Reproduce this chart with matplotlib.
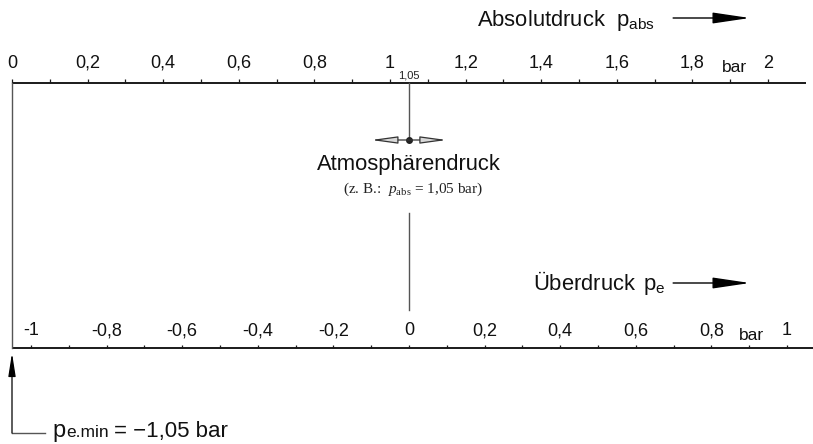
import matplotlib
matplotlib.use('Agg')
import matplotlib.pyplot as plt

plt.rcParams['font.family'] = ['Liberation Sans', 'DejaVu Sans']
plt.rcParams['mathtext.fontset'] = 'custom'
plt.rcParams['mathtext.rm'] = 'Liberation Sans'
plt.rcParams['mathtext.it'] = 'Liberation Serif:italic'
plt.rcParams['mathtext.sf'] = 'Liberation Serif'

# ---- data (bar) ----
abs_major = [0, 0.2, 0.4, 0.6, 0.8, 1.0, 1.2, 1.4, 1.6, 1.8, 2.0]
abs_labels = ['0', '0,2', '0,4', '0,6', '0,8', '1', '1,2', '1,4', '1,6', '1,8', '2']
abs_minor = [0.1, 0.3, 0.5, 0.7, 0.9, 1.1, 1.3, 1.5, 1.7, 1.9]
gauge_major = [-1.0, -0.8, -0.6, -0.4, -0.2, 0.0, 0.2, 0.4, 0.6, 0.8, 1.0]
gauge_labels = ['-1', '-0,8', '-0,6', '-0,4', '-0,2', '0', '0,2', '0,4', '0,6', '0,8', '1']
gauge_minor = [-0.9, -0.7, -0.5, -0.3, -0.1, 0.1, 0.3, 0.5, 0.7, 0.9]
p_atm = 1.05            # atmospheric pressure (absolute)
p_e_min = -1.05         # minimum gauge pressure
abs_axis_end = 2.1
bar_pos_abs = 1.9
bar_pos_gauge = 0.9

# ---- layout (pixel rows from top) ----
Y_TOP = 83
Y_BOT = 348
Y_ATM = 140
TICK = 3.5
LINE_C = '#1a1a1a'
GREY = '#555555'
TXT = '#111111'

fig = plt.figure(figsize=(8.13, 4.44), dpi=100)
ax = fig.add_axes([0, 0, 1, 1])
ax.set_xlim(-12 / 378, 801 / 378)
ax.set_ylim(444, 0)
ax.axis('off')

def g2a(g):
    return g + p_atm

# top axis (absolute pressure)
ax.plot([0, abs_axis_end], [Y_TOP, Y_TOP], color=LINE_C, lw=1.4, solid_capstyle='butt')
ax.vlines(abs_major + abs_minor, Y_TOP - TICK, Y_TOP, color=LINE_C, lw=0.9)
for v, lab in zip(abs_major, abs_labels):
    ax.text(v, 68, lab, ha='center', va='baseline', fontsize=13, color=TXT)
ax.annotate('bar', xy=(bar_pos_abs, 72), xytext=(3, 0), textcoords='offset points',
            ha='center', va='baseline', fontsize=12.5, color=TXT)
ax.text(p_atm, 78.5, '1,05', ha='center', va='baseline', fontsize=8, color='#222')

# bottom axis (gauge pressure)
gm = [g2a(g) for g in gauge_major]
gn = [g2a(g) for g in gauge_minor]
ax.plot([g2a(p_e_min), 2.2], [Y_BOT, Y_BOT], color=LINE_C, lw=1.4, solid_capstyle='butt')
ax.vlines(gm + gn, Y_BOT - TICK, Y_BOT, color=LINE_C, lw=0.9)
for v, lab in zip(gm, gauge_labels):
    ax.text(v, 335, lab, ha='center', va='baseline', fontsize=13, color=TXT)
ax.annotate('bar', xy=(g2a(bar_pos_gauge), 340), xytext=(2, 0), textcoords='offset points',
            ha='center', va='baseline', fontsize=12.5, color=TXT)

# left vertical line (absolute zero)
ax.plot([0, 0], [Y_TOP, Y_BOT], color=GREY, lw=1.0)

# atmospheric pressure line
ax.plot([p_atm, p_atm], [Y_TOP, Y_ATM], color=GREY, lw=1.0)
ax.plot([p_atm, p_atm], [213, 310], color=GREY, lw=1.0)
for d in (-0.1, 0.1):
    ax.annotate('', xy=(p_atm + d, Y_ATM), xytext=(p_atm, Y_ATM),
                arrowprops=dict(arrowstyle='-|>,head_length=1.6,head_width=0.22',
                                fc='#d8d8d8', ec='#333333', lw=0.9,
                                shrinkA=0, shrinkB=0, mutation_scale=10))
ax.plot([p_atm], [Y_ATM], 'o', ms=4, color='#222')
ax.text(p_atm, 170, 'Atmosphärendruck', ha='center', va='baseline', fontsize=15.8, color=TXT)
ax.text(p_atm + 0.01, 193, r'(z. B.:  $\mathit{p}_{\mathsf{abs}}$ = 1,05 bar)', ha='center',
        va='baseline', fontsize=11, family=['Liberation Serif'], color='#222')

# headline labels with arrows
ax.text(1.23, 26, r'Absolutdruck  $\mathrm{p}_{\mathrm{abs}}$', ha='left', va='baseline',
        fontsize=15.8, color=TXT)
ax.annotate('', xy=(1.952, 18), xytext=(1.749, 18),
            arrowprops=dict(arrowstyle='-|>,head_length=1.15,head_width=0.17',
                            color='black', lw=1.0, shrinkA=0, shrinkB=0, mutation_scale=20))
ax.text(1.378, 290, r'Überdruck $\,\mathrm{p}_{\mathrm{e}}$', ha='left', va='baseline',
        fontsize=15.8, color=TXT)
ax.annotate('', xy=(1.952, 283), xytext=(1.749, 283),
            arrowprops=dict(arrowstyle='-|>,head_length=1.15,head_width=0.17',
                            color='black', lw=1.0, shrinkA=0, shrinkB=0, mutation_scale=20))

# minimum gauge pressure annotation
ax.annotate('', xy=(g2a(p_e_min), 353), xytext=(g2a(p_e_min), 433),
            arrowprops=dict(arrowstyle='-|>,head_length=1.4,head_width=0.22',
                            color='black', lw=0.9, shrinkA=0, shrinkB=0, mutation_scale=10))
ax.plot([g2a(p_e_min), 0.088], [433, 433], color=GREY, lw=1.0)
t_p = ax.text(0.106, 437, 'p', ha='left', va='baseline', fontsize=17, color=TXT)
t_sub = ax.annotate('e.min', xy=(1, 0), xycoords=t_p, xytext=(0.5, 1.5),
                    textcoords='offset points', ha='left', va='bottom',
                    fontsize=12.5, color=TXT)
ax.annotate('= −1,05 bar', xy=(1, 0), xycoords=t_sub, xytext=(4, -1.5),
            textcoords='offset points', ha='left', va='bottom', fontsize=16, color=TXT)

fig.savefig('out.png', dpi=100)
